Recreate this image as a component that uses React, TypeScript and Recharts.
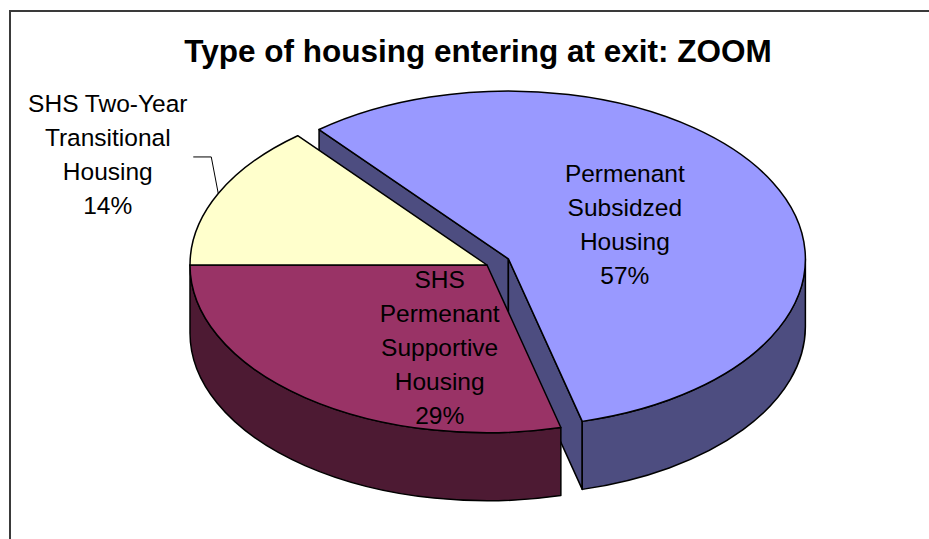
import { PieChart, Pie } from 'recharts'

const categories = [
  'Permenant Subsidzed Housing',
  'SHS Permenant Supportive Housing',
  'SHS Two-Year Transitional Housing',
]
const shares = [57, 29, 14]
const labelWords = [
  ['Permenant', 'Subsidzed', 'Housing'],
  ['SHS', 'Permenant', 'Supportive', 'Housing'],
  ['SHS Two-Year', 'Transitional', 'Housing'],
]
const topColors = ['#9999FF', '#993366', '#FFFFCC']
const sideColors = ['#4D4D80', '#4D1A33', '#80806A']

const data = categories.map((name, i) => ({ name, value: shares[i] }))

const W = 929
const H = 539
const FONT = '"Liberation Sans", Arial, Helvetica, sans-serif'
const TILT = 0.565
const DEPTH = 68
const EXPLODE = 24
const EXPLODED = 0
const LINE_H = 34
const LABEL_FS = 24.5
// where inside labels sit, as a fraction of the radius (x, y)
const INSIDE_POS: Record<number, [number, number]> = { 0: [0.44, 0.45], 1: [0.26, 0.625] }

const RAD = Math.PI / 180

function pt(cx: number, cy: number, rx: number, ry: number, deg: number): [number, number] {
  return [cx + rx * Math.cos(deg * RAD), cy - ry * Math.sin(deg * RAD)]
}

function geometry(props: any) {
  const { cx, cy, outerRadius, startAngle, endAngle, index } = props
  const rx = outerRadius
  const ry = rx * TILT
  const mid = (startAngle + endAngle) / 2
  let ox = cx
  let oy = cy
  if (index === EXPLODED) {
    ox += EXPLODE * Math.cos(mid * RAD)
    oy -= EXPLODE * TILT * Math.sin(mid * RAD)
  }
  return {
    ox,
    oy,
    rx,
    ry,
    hi: Math.max(startAngle, endAngle),
    lo: Math.min(startAngle, endAngle),
    mid,
  }
}

const renderWalls = (props: any) => {
  const { index } = props
  const { ox, oy, rx, ry, hi, lo } = geometry(props)
  const parts: any[] = []
  const side = sideColors[index % sideColors.length]

  if (index === EXPLODED) {
    const edges: number[] = []
    if (Math.cos(hi * RAD) < 0) edges.push(hi)
    if (Math.cos(lo * RAD) > 0) edges.push(lo)
    edges.forEach((a, k) => {
      const [x, y] = pt(ox, oy, rx, ry, a)
      parts.push(
        <path
          key={`r${k}`}
          d={`M${ox},${oy} L${x},${y} L${x},${y + DEPTH} L${ox},${oy + DEPTH} Z`}
          fill={side}
          stroke="#000"
          strokeWidth={1.5}
          strokeLinejoin="round"
        />
      )
    })
  }

  for (let k = -2; k <= 1; k++) {
    const a = Math.max(lo, -180 + 360 * k)
    const b = Math.min(hi, 360 * k)
    if (b - a < 0.01) continue
    const [x1, y1] = pt(ox, oy, rx, ry, b)
    const [x2, y2] = pt(ox, oy, rx, ry, a)
    const large = b - a > 180 ? 1 : 0
    parts.push(
      <path
        key={`w${k}`}
        d={`M${x1},${y1} A${rx},${ry} 0 ${large} 1 ${x2},${y2} L${x2},${y2 + DEPTH} A${rx},${ry} 0 ${large} 0 ${x1},${y1 + DEPTH} Z`}
        fill={side}
        stroke="#000"
        strokeWidth={1.5}
        strokeLinejoin="round"
      />
    )
  }
  return <g key={`walls-${index}`}>{parts}</g>
}

function MultiLine({ x, cy, lines }: { x: number; cy: number; lines: string[] }) {
  const first = cy - ((lines.length - 1) * LINE_H) / 2 + LABEL_FS * 0.35
  return (
    <text x={x} y={first} textAnchor="middle" fontFamily={FONT} fontSize={LABEL_FS} fill="#000">
      {lines.map((l, i) => (
        <tspan key={i} x={x} dy={i === 0 ? 0 : LINE_H}>
          {l}
        </tspan>
      ))}
    </text>
  )
}

const renderTops = (props: any) => {
  const { index, value } = props
  const { ox, oy, rx, ry, hi, lo, mid } = geometry(props)
  const [x1, y1] = pt(ox, oy, rx, ry, hi)
  const [x2, y2] = pt(ox, oy, rx, ry, lo)
  const large = hi - lo > 180 ? 1 : 0
  const lines = [...labelWords[index], `${value}%`]

  let label
  const pos = INSIDE_POS[index]
  if (pos) {
    const lx = ox + pos[0] * rx * Math.cos(mid * RAD)
    const ly = oy - pos[1] * ry * Math.sin(mid * RAD)
    label = <MultiLine x={lx} cy={ly} lines={lines} />
  } else {
    const [mx, my] = pt(ox, oy, rx, ry, mid)
    const ex = mx - 7
    const ey = my - 36.6
    const ax = ex - 18
    label = (
      <g>
        <polyline points={`${mx},${my} ${ex},${ey} ${ax},${ey}`} fill="none" stroke="#000" strokeWidth={1} />
        <MultiLine x={ax - 85.5} cy={ey - 3} lines={lines} />
      </g>
    )
  }

  return (
    <g key={`top-${index}`}>
      <path
        d={`M${ox},${oy} L${x1},${y1} A${rx},${ry} 0 ${large} 1 ${x2},${y2} Z`}
        fill={topColors[index % topColors.length]}
        stroke="#000"
        strokeWidth={1.5}
        strokeLinejoin="round"
      />
      {label}
    </g>
  )
}

export default function App() {
  return (
    <div
      style={{
        position: 'fixed',
        left: 0,
        top: 0,
        width: W,
        height: H,
        overflow: 'hidden',
        background: '#fff',
      }}
    >
      <div
        style={{
          position: 'absolute',
          left: 9,
          top: 10,
          width: W - 9,
          height: H - 10,
          boxSizing: 'border-box',
          borderLeft: '2px solid #3a3a3a',
          borderTop: '2px solid #3a3a3a',
        }}
      />
      <div style={{ position: 'absolute', left: 0, top: 0 }}>
        <PieChart width={W} height={H} margin={{ top: 0, right: 0, bottom: 0, left: 0 }}>
          <text
            x={478}
            y={62}
            textAnchor="middle"
            fontFamily={FONT}
            fontSize={31.5}
            fontWeight="bold"
            fill="#000"
          >
            Type of housing entering at exit: ZOOM
          </text>
          <Pie
            data={data}
            dataKey="value"
            nameKey="name"
            cx={487}
            cy={265}
            outerRadius={297}
            startAngle={129.6}
            endAngle={-230.4}
            fill="none"
            stroke="none"
            label={renderWalls}
            labelLine={false}
            isAnimationActive={false}
          />
          <Pie
            data={data}
            dataKey="value"
            nameKey="name"
            cx={487}
            cy={265}
            outerRadius={297}
            startAngle={129.6}
            endAngle={-230.4}
            fill="none"
            stroke="none"
            label={renderTops}
            labelLine={false}
            isAnimationActive={false}
          />
        </PieChart>
      </div>
    </div>
  )
}
